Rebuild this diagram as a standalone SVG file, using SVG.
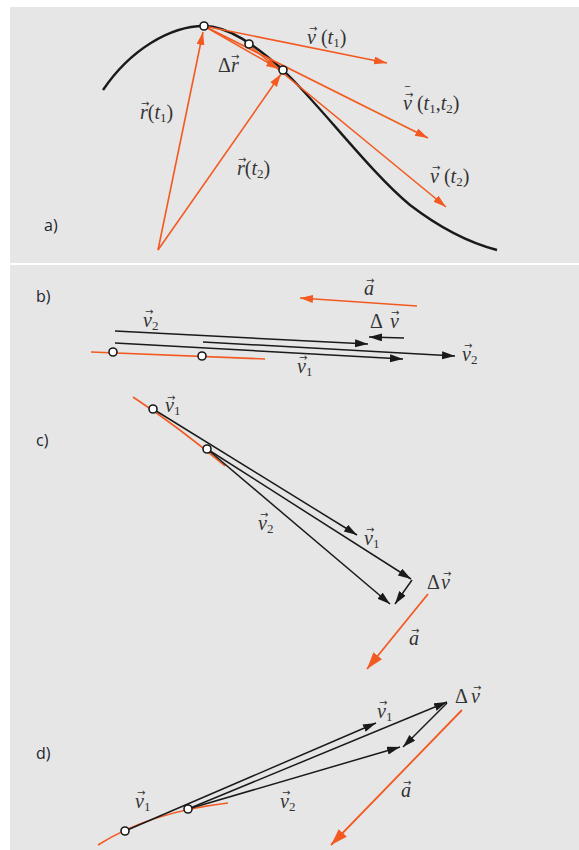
<svg xmlns="http://www.w3.org/2000/svg" width="579" height="850" viewBox="0 0 579 850">
<style>
.bg{fill:#e6e6e6}
.crv{fill:none;stroke:#1a1a1a;stroke-width:2.4}
.or{fill:none;stroke:#f25a22;stroke-width:1.6}
.ora{fill:none;stroke:#f25a22;stroke-width:1.6;marker-end:url(#mo)}
.oraL{fill:none;stroke:#f25a22;stroke-width:1.8;marker-end:url(#moL)}
.bk{fill:none;stroke:#1a1a1a;stroke-width:1.5;marker-end:url(#mb)}
.pt{fill:#fff;stroke:#1a1a1a;stroke-width:1.6}
.lb{font-family:"Liberation Serif","Times New Roman",serif;font-style:italic;font-size:20px;fill:#333}
.up{font-style:normal}
.sb{font-size:13px;font-style:normal}
.ac{font-family:"DejaVu Sans",sans-serif;font-style:normal;font-size:10px}
.pl{font-family:"Open Sans","Liberation Sans",sans-serif;font-size:16px;fill:#1f1f2e}
</style>
<defs>
<marker id="mb" markerUnits="userSpaceOnUse" markerWidth="14" markerHeight="10" refX="13" refY="4" orient="auto"><path d="M0,0 L13,4 L0,8 Z" fill="#1a1a1a"/></marker>
<marker id="mo" markerUnits="userSpaceOnUse" markerWidth="14" markerHeight="10" refX="13" refY="4" orient="auto"><path d="M0,0 L13,4 L0,8 Z" fill="#f25a22"/></marker>
<marker id="moL" markerUnits="userSpaceOnUse" markerWidth="18" markerHeight="12" refX="17" refY="5.5" orient="auto"><path d="M0,0 L17,5.5 L0,11 Z" fill="#f25a22"/></marker>
</defs>
<rect x="0" y="0" width="579" height="850" fill="#ffffff"/>
<rect class="bg" x="10" y="7" width="569" height="256"/>
<rect class="bg" x="10" y="265" width="569" height="585"/>

<g id="panel-a">
<g id="curve-a"><path class="crv" d="M103,90 C130,50 170,26 204,26 C228,26 255,45 283,70 C320,105 370,172 410,205 C440,228 470,243 497,250"/></g>
<g id="connectors-a">
<line class="ora" x1="158" y1="250" x2="203" y2="32"/>
<line class="ora" x1="158" y1="250" x2="281" y2="74"/>
<line class="ora" x1="204" y1="26" x2="279" y2="69"/>
<line class="ora" x1="204" y1="26" x2="387" y2="63"/>
<line class="ora" x1="204" y1="26" x2="428" y2="138"/>
<line class="ora" x1="250" y1="46" x2="446" y2="207"/>
</g>
<g id="pt-a1"><circle class="pt" cx="204" cy="26" r="4"/></g>
<g id="pt-a2"><circle class="pt" cx="249" cy="44" r="4"/></g>
<g id="pt-a3"><circle class="pt" cx="283" cy="70" r="4"/></g>
<text id="lbl-v-t1" class="lb"><tspan class="ac" x="309" y="32">→</tspan><tspan x="307" y="44">v </tspan><tspan class="up">(</tspan>t<tspan class="sb" dy="3">1</tspan><tspan class="up" dy="-3">)</tspan></text>
<text id="lbl-dr" class="lb"><tspan class="up" x="218" y="72">Δ</tspan><tspan>r</tspan><tspan class="ac" x="231" y="60">→</tspan></text>
<text id="lbl-r-t1" class="lb"><tspan class="ac" x="141" y="107">→</tspan><tspan x="140" y="119">r</tspan><tspan class="up">(</tspan>t<tspan class="sb" dy="3">1</tspan><tspan class="up" dy="-3">)</tspan></text>
<text id="lbl-vbar" class="lb"><tspan class="ac" x="405" y="94">‾</tspan><tspan class="ac" x="405" y="98">→</tspan><tspan x="403" y="110">v </tspan><tspan class="up">(</tspan>t<tspan class="sb" dy="3">1</tspan><tspan class="up" dy="-3">,</tspan>t<tspan class="sb" dy="3">2</tspan><tspan class="up" dy="-3">)</tspan></text>
<text id="lbl-r-t2" class="lb"><tspan class="ac" x="238" y="163">→</tspan><tspan x="237" y="175">r</tspan><tspan class="up">(</tspan>t<tspan class="sb" dy="3">2</tspan><tspan class="up" dy="-3">)</tspan></text>
<text id="lbl-v-t2" class="lb"><tspan class="ac" x="432" y="171">→</tspan><tspan x="430" y="183">v </tspan><tspan class="up">(</tspan>t<tspan class="sb" dy="3">2</tspan><tspan class="up" dy="-3">)</tspan></text>
<text class="pl" x="44" y="231">a)</text>
</g>

<g id="panel-b">
<text class="pl" x="36" y="302">b)</text>
<line class="or" x1="91" y1="352" x2="265" y2="359"/>
<g id="connectors-b">
<line class="bk" x1="115" y1="331" x2="368" y2="344"/>
<line class="bk" x1="203" y1="342" x2="455" y2="356"/>
<line class="bk" x1="115" y1="343" x2="403" y2="359"/>
<line class="bk" x1="404" y1="338" x2="369" y2="337"/>
<line class="ora" x1="417" y1="306" x2="300" y2="298"/>
</g>
<g id="pt-b1"><circle class="pt" cx="113" cy="352" r="4"/></g>
<g id="pt-b2"><circle class="pt" cx="202" cy="356" r="4"/></g>
<text id="lbl-b-v2a" class="lb"><tspan class="ac" x="145" y="315">→</tspan><tspan x="143" y="327">v</tspan><tspan class="sb" dy="3">2</tspan></text>
<text id="lbl-b-a" class="lb"><tspan class="ac" x="366" y="284">→</tspan><tspan x="364" y="295">a</tspan></text>
<text id="lbl-b-dv" class="lb"><tspan class="up" x="370" y="328">Δ</tspan><tspan class="ac" x="391" y="316">→</tspan><tspan x="390" y="328">v</tspan></text>
<text id="lbl-b-v1" class="lb"><tspan class="ac" x="299" y="361">→</tspan><tspan x="297" y="373">v</tspan><tspan class="sb" dy="3">1</tspan></text>
<text id="lbl-b-v2b" class="lb"><tspan class="ac" x="464" y="349">→</tspan><tspan x="462" y="361">v</tspan><tspan class="sb" dy="3">2</tspan></text>
</g>

<g id="panel-c">
<text class="pl" x="36" y="446">c)</text>
<path class="or" d="M133,397 Q180,428 225,466"/>
<g id="connectors-c">
<line class="bk" x1="153" y1="409" x2="357" y2="535"/>
<line class="bk" x1="207" y1="449" x2="411" y2="579"/>
<line class="bk" x1="207" y1="449" x2="390" y2="604"/>
<line class="bk" x1="412" y1="580" x2="395" y2="604"/>
<line class="oraL" x1="428" y1="594" x2="367" y2="669"/>
</g>
<g id="pt-c1"><circle class="pt" cx="153" cy="409" r="4"/></g>
<g id="pt-c2"><circle class="pt" cx="207" cy="449" r="4"/></g>
<text id="lbl-c-v1a" class="lb"><tspan class="ac" x="167" y="401">→</tspan><tspan x="165" y="412">v</tspan><tspan class="sb" dy="3">1</tspan></text>
<text id="lbl-c-v2" class="lb"><tspan class="ac" x="260" y="518">→</tspan><tspan x="258" y="530">v</tspan><tspan class="sb" dy="3">2</tspan></text>
<text id="lbl-c-v1b" class="lb"><tspan class="ac" x="366" y="533">→</tspan><tspan x="364" y="545">v</tspan><tspan class="sb" dy="3">1</tspan></text>
<text id="lbl-c-dv" class="lb"><tspan class="up" x="427" y="589">Δ</tspan><tspan class="ac" x="443" y="577">→</tspan><tspan x="441" y="589">v</tspan></text>
<text id="lbl-c-a" class="lb"><tspan class="ac" x="411" y="634">→</tspan><tspan x="409" y="645">a</tspan></text>
</g>

<g id="panel-d">
<text class="pl" x="36" y="759">d)</text>
<path class="or" d="M98,845 Q150,812 228,803"/>
<g id="connectors-d">
<line class="bk" x1="125" y1="831" x2="376" y2="723"/>
<line class="bk" x1="188" y1="809" x2="447" y2="702"/>
<line class="bk" x1="188" y1="809" x2="400" y2="747"/>
<line class="bk" x1="447" y1="703" x2="403" y2="747"/>
<line class="oraL" x1="462" y1="710" x2="331" y2="845"/>
</g>
<g id="pt-d1"><circle class="pt" cx="125" cy="831" r="4"/></g>
<g id="pt-d2"><circle class="pt" cx="188" cy="809" r="4"/></g>
<text id="lbl-d-v1a" class="lb"><tspan class="ac" x="379" y="706">→</tspan><tspan x="377" y="718">v</tspan><tspan class="sb" dy="3">1</tspan></text>
<text id="lbl-d-dv" class="lb"><tspan class="up" x="455" y="703">Δ</tspan><tspan class="ac" x="473" y="691">→</tspan><tspan x="471" y="703">v</tspan></text>
<text id="lbl-d-a" class="lb"><tspan class="ac" x="403" y="786">→</tspan><tspan x="401" y="797">a</tspan></text>
<text id="lbl-d-v1b" class="lb"><tspan class="ac" x="137" y="796">→</tspan><tspan x="135" y="808">v</tspan><tspan class="sb" dy="3">1</tspan></text>
<text id="lbl-d-v2" class="lb"><tspan class="ac" x="282" y="796">→</tspan><tspan x="280" y="808">v</tspan><tspan class="sb" dy="3">2</tspan></text>
</g>
</svg>
